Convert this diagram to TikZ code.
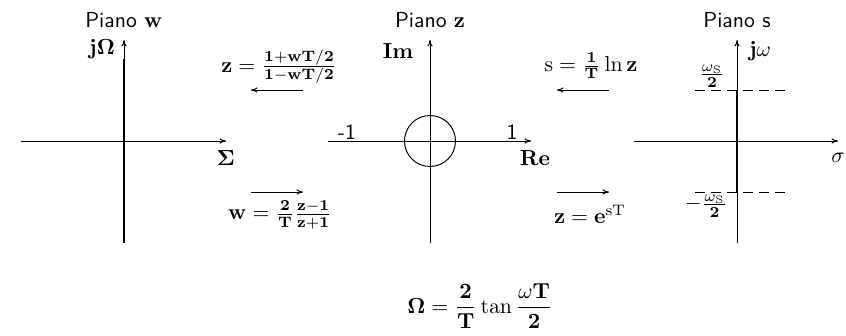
\documentclass[tikz,border=0pt]{standalone}
\usepackage{amsmath,bm}
\usetikzlibrary{arrows.meta}
\begin{document}
\begin{tikzpicture}[x=0.46pt,y=-0.46pt,
  axis/.style={line width=0.45pt,-{To[length=3pt,width=2.4pt]}},
  thickax/.style={line width=1.15pt},
  maparrow/.style={line width=0.45pt,-{To[length=3pt,width=2.4pt]}},
  dashline/.style={line width=0.45pt,dash pattern=on 4.6pt off 2.8pt},
  lbl/.style={inner sep=0pt,font=\sffamily},
  mlbl/.style={inner sep=0pt}]
\useasboundingbox (0,0) rectangle (846,335);
% ---------- w plane
\coordinate (wl) at (21,141); \coordinate (wr) at (226,141);
\coordinate (wb) at (124,243); \coordinate (wt) at (124,40);
\coordinate (wth) at (124,59);
\draw[axis] (wl) -- (wr);
\draw[axis] (wb) -- (wt);
\draw[thickax] (wb) -- (wth);
\node[lbl] (pw) at (124,20) {Piano $\mathbf{w}$};
\node[mlbl] (jO) at (102,49) {$\mathbf{j\Omega}$};
\node[mlbl] (Sg) at (226,158) {$\mathbf{\Sigma}$};
% ---------- z plane
\coordinate (zl) at (328,141); \coordinate (zr) at (531,141);
\coordinate (zb) at (430,243); \coordinate (zt) at (430,40);
\draw[axis] (zl) -- (zr);
\draw[axis] (zb) -- (zt);
\node[draw,circle,line width=0.45pt,minimum size=51*0.46pt,inner sep=0pt] (uc) at (430,141) {};
\node[lbl] (pz) at (430,20) {Piano $\mathbf{z}$};
\node[mlbl] (Im) at (398,51) {$\mathbf{Im}$};
\node[mlbl] (Re) at (535,158) {$\mathbf{Re}$};
\node[lbl] (m1) at (347,132) {-1};
\node[lbl] (p1) at (512,132) {1};
% ---------- s plane
\coordinate (sl) at (634,141); \coordinate (sr) at (838,141);
\coordinate (sb) at (737,243); \coordinate (st) at (737,40);
\coordinate (sth) at (737,90); \coordinate (sbh) at (737,192);
\draw[axis] (sl) -- (sr);
\draw[axis] (sb) -- (st);
\draw[thickax] (sbh) -- (sth);
\coordinate (d1l) at (695,90); \coordinate (d1r) at (790,90);
\coordinate (d2l) at (695,192); \coordinate (d2r) at (790,192);
\draw[dashline] (d1l) -- (d1r);
\draw[dashline] (d2l) -- (d2r);
\node[lbl] (ps) at (737,20) {Piano s};
\node[mlbl] (jw) at (760,51) {$\mathbf{j}\omega$};
\node[mlbl] (sig) at (838,158) {$\sigma$};
\node[mlbl] (wsp) at (712,76) {$\frac{\omega_{\mathrm{S}}}{\mathbf{2}}$};
\node[mlbl] (wsm) at (706,206) {$-\frac{\omega_{\mathrm{S}}}{\mathbf{2}}$};
% ---------- mapping arrows
\coordinate (a1s) at (303,90); \coordinate (a1e) at (251,90);
\coordinate (a2s) at (251,192); \coordinate (a2e) at (303,192);
\coordinate (a3s) at (609,90); \coordinate (a3e) at (557,90);
\coordinate (a4s) at (557,192); \coordinate (a4e) at (609,192);
\draw[maparrow] (a1s) -- (a1e);
\draw[maparrow] (a2s) -- (a2e);
\draw[maparrow] (a3s) -- (a3e);
\draw[maparrow] (a4s) -- (a4e);
\node[mlbl] (f1) at (279,67) {$\mathbf{z}=\frac{\mathbf{1+wT/2}}{\mathbf{1-wT/2}}$};
\node[mlbl] (f2) at (280,215) {$\mathbf{w}=\frac{\mathbf{2}}{\mathbf{T}}\frac{\mathbf{z-1}}{\mathbf{z+1}}$};
\node[mlbl] (f3) at (591,66) {$\mathrm{s}=\frac{\mathbf{1}}{\mathbf{T}}\ln\mathbf{z}$};
\node[mlbl] (f4) at (590,214) {$\mathbf{z}=\mathbf{e}^{\mathrm{sT}}$};
% ---------- bottom
\node[mlbl] (f5) at (480,306) {$\displaystyle \mathbf{\Omega}=\frac{\mathbf{2}}{\mathbf{T}}\tan\frac{\omega\mathbf{T}}{\mathbf{2}}$};
\end{tikzpicture}
\end{document}
